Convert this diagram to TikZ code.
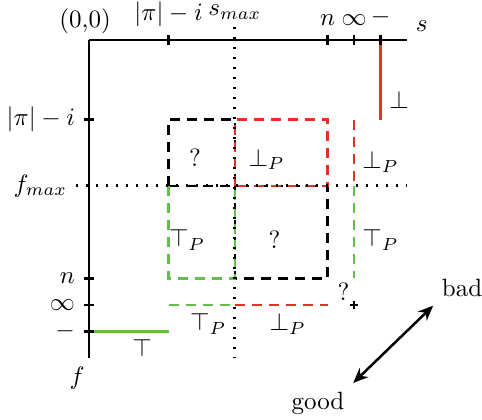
\documentclass[tikz,border=0pt]{standalone}
\usetikzlibrary{arrows.meta}
\definecolor{myred}{RGB}{228,48,38}
\definecolor{mygreen}{RGB}{98,192,72}
\begin{document}
\begin{tikzpicture}[x=10.6pt,y=10.6pt,
  axis/.style={line width=1pt,black},
  tickmark/.style={line width=1pt,black},
  dashline/.style={line width=0.85pt,dash pattern=on 4pt off 2.8pt},
  dotline/.style={line width=1.1pt,dash pattern=on 0.9pt off 3.1pt},
  lbl/.style={inner sep=0pt}]
\useasboundingbox (-3.36,1.51) rectangle (14.83,-14.34);
% axes
\coordinate (O) at (0,0);
\coordinate (Sx) at (12,0);
\coordinate (Fy) at (0,-12);
% black dashed boxes
\draw[dashline,black] (3,-5.5) -- (3,-3) -- (5.5,-3) -- (5.5,-5.5) -- cycle;
\draw[dashline,black] (5.5,-5.5) rectangle (9,-9);
% red
\draw[dashline,myred] (5.5,-5.5) -- (5.5,-3) -- (9,-3) -- (9,-5.5) -- cycle;
\draw[dashline,myred] (10,-3) -- (10,-5.5);
\draw[dashline,myred] (5.5,-10) -- (9,-10);
% green
\draw[dashline,mygreen] (3,-5.5) -- (3,-9) -- (5.5,-9) -- (5.5,-5.5);
\draw[dashline,mygreen] (10,-5.5) -- (10,-9);
\draw[dashline,mygreen] (3,-10) -- (5.5,-10);
% dotted
\coordinate (Dt) at (5.5,0.5);
\coordinate (Db) at (5.5,-12);
\coordinate (Dl) at (-0.5,-5.5);
\coordinate (Dr) at (12,-5.5);
\draw[dotline] (Dt) -- (Db);
\draw[dotline] (Dl) -- (Dr);
% solid coloured
\draw[line width=1pt,mygreen] (0,-11) -- (3,-11);
\draw[line width=1pt,myred] (11,0) -- (11,-3);
% axes
\draw[axis] (O) -- (Sx);
\draw[axis] (O) -- (Fy);
\foreach \t in {3,9,10,11}{
  \draw[tickmark] (\t,0.2) -- (\t,-0.2);
  \draw[tickmark] (-0.2,-\t) -- (0.2,-\t);
}
% small cross
\coordinate (X) at (10,-10);
\draw[line width=0.7pt] ([xshift=-1.6pt]X) -- ([xshift=1.6pt]X) ([yshift=-1.6pt]X) -- ([yshift=1.6pt]X);
% axis labels
\node (orig) at (-0.15,0.72) {(0,0)};
\node[above] (tpi) at (3,0.15) {$|\pi|-i$};
\node[above] (tsm) at ([yshift=-0.6pt]Dt) {$s_{max}$};
\node[above] (tn) at (9,0.2) {$n$};
\node[above] (tinf) at (10,0.2) {$\infty$};
\node[above] (tmin) at (11,0.2) {$-$};
\node[above right] (sl) at (Sx) {$s$};
\node[left] (lpi) at (-0.2,-3) {$|\pi|-i$};
\node[left] (lfm) at (Dl) {$f_{max}$};
\node[left] (ln) at (-0.2,-9) {$n$};
\node[left] (linf) at (-0.2,-10) {$\infty$};
\node[left] (lmin) at (-0.2,-11) {$-$};
\node (fl) at (-0.45,-12.75) {$f$};
% region labels
\node (q1) at (4.0,-4.45) {?};
\node (bp1) at (6.7,-4.5) {$\bot_P$};
\node (bp2) at (11,-4.6) {$\bot_P$};
\node (tp1) at (3.7,-7.55) {$\top_P$};
\node (q2) at (7.0,-7.55) {?};
\node (tp2) at (11,-7.55) {$\top_P$};
\node (q3) at (9.6,-9.5) {?};
\node (tp3) at (4.5,-10.7) {$\top_P$};
\node (bp3) at (7.5,-10.7) {$\bot_P$};
\node (tt) at (2.0,-11.6) {$\top$};
\node (bb) at (11.7,-2.26) {$\bot$};
% good / bad
\node (bad) at (14.08,-9.36) {bad};
\node (good) at (8.64,-13.7) {good};
\draw[line width=1pt,{Stealth[length=6pt,width=5pt]}-{Stealth[length=6pt,width=5pt]}] (good.north east) -- (bad.south west);
\end{tikzpicture}
\end{document}
